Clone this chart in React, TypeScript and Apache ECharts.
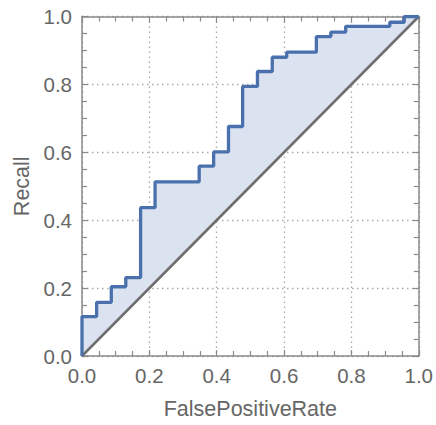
import React, { useEffect, useRef } from "react";
import * as echarts from "echarts";

// breakpoints of the ROC step curve: at each fpr the recall jumps to the given value
const fprSteps = [0, 0.0435, 0.087, 0.13, 0.174, 0.217, 0.348, 0.391, 0.435, 0.477, 0.521, 0.565, 0.608, 0.696, 0.739, 0.783, 0.914, 0.957];
const recallSteps = [0.116, 0.158, 0.204, 0.231, 0.437, 0.513, 0.559, 0.601, 0.676, 0.794, 0.838, 0.88, 0.895, 0.941, 0.954, 0.971, 0.983, 1.0];
const tickValues = [0, 0.2, 0.4, 0.6, 0.8, 1.0];
const diagonal = [[0, 0], [1, 1]];

function buildStepPoints(): number[][] {
  const pts: number[][] = [[0, 0]];
  let prevY = 0;
  for (let i = 0; i < fprSteps.length; i++) {
    const x = fprSteps[i];
    pts.push([x, prevY]);
    pts.push([x, recallSteps[i]]);
    prevY = recallSteps[i];
  }
  pts.push([1, prevY]);
  return pts.filter((p, i) => i === 0 || p[0] !== pts[i - 1][0] || p[1] !== pts[i - 1][1]);
}

export default function App() {
  const ref = useRef<HTMLDivElement>(null);
  useEffect(() => {
    if (!ref.current) return;
    const chart = echarts.init(ref.current, null, { renderer: "svg" });
    const stepPts = buildStepPoints();
    const fillPts = [...stepPts, ...[...diagonal].reverse()];
    const labelColor = "#666";
    const frameColor = "#8a8a8a";
    const font = "'Liberation Sans', Arial, sans-serif";
    const gridLine = { show: true, lineStyle: { color: "#aaaaaa", type: [1.5, 3.5] as any, width: 1.3 } };
    const baseAxis = (extra: any) => ({
      type: "value",
      min: 0,
      max: 1,
      interval: 0.2,
      axisLine: { show: true, onZero: false, lineStyle: { color: frameColor, width: 1.5 } },
      axisTick: { show: true, inside: true, length: 6, lineStyle: { color: frameColor, width: 1.2 } },
      minorTick: { show: true, splitNumber: 4, length: 5, lineStyle: { color: frameColor, width: 1.2 } },
      ...extra,
    });
    chart.setOption({
      animation: false,
      backgroundColor: "#fff",
      grid: { left: 82, right: 13, top: 16.5, bottom: 69 },
      xAxis: [
        baseAxis({
          name: "FalsePositiveRate",
          nameLocation: "middle",
          nameGap: 42,
          nameTextStyle: { color: labelColor, fontSize: 21.5, fontFamily: font },
          axisLabel: {
            color: labelColor, fontSize: 20.5, fontFamily: font, margin: 9,
            formatter: (v: number) => (tickValues.some((t) => Math.abs(t - v) < 1e-9) ? v.toFixed(1) : ""),
          },
          splitLine: gridLine,
        }),
        baseAxis({ position: "top", axisLabel: { show: false }, splitLine: { show: false } }),
      ],
      yAxis: [
        baseAxis({
          name: "Recall",
          nameLocation: "middle",
          nameGap: 49,
          nameTextStyle: { color: labelColor, fontSize: 21.5, fontFamily: font },
          axisLabel: {
            color: labelColor, fontSize: 20.5, fontFamily: font, margin: 10,
            formatter: (v: number) => v.toFixed(1),
          },
          splitLine: gridLine,
        }),
        baseAxis({ position: "right", axisLabel: { show: false }, splitLine: { show: false } }),
      ],
      series: [
        {
          type: "custom",
          xAxisIndex: 0,
          yAxisIndex: 0,
          data: [[0, 0]],
          silent: true,
          z: 1,
          renderItem: (_params: any, api: any) => ({
            type: "polygon",
            shape: { points: fillPts.map((p) => api.coord(p)) },
            style: { fill: "#dbe3f0", stroke: "none" },
          }),
        },
        {
          type: "line",
          data: diagonal,
          symbol: "none",
          z: 3,
          lineStyle: { color: "#6e6e6e", width: 2.5 },
        },
        {
          type: "line",
          data: stepPts,
          symbol: "none",
          z: 4,
          lineStyle: { color: "#4a70ad", width: 3.3 },
        },
      ],
    });
    return () => chart.dispose();
  }, []);
  return <div ref={ref} style={{ position: "fixed", left: 0, top: 0, width: 436, height: 425 }} />;
}
